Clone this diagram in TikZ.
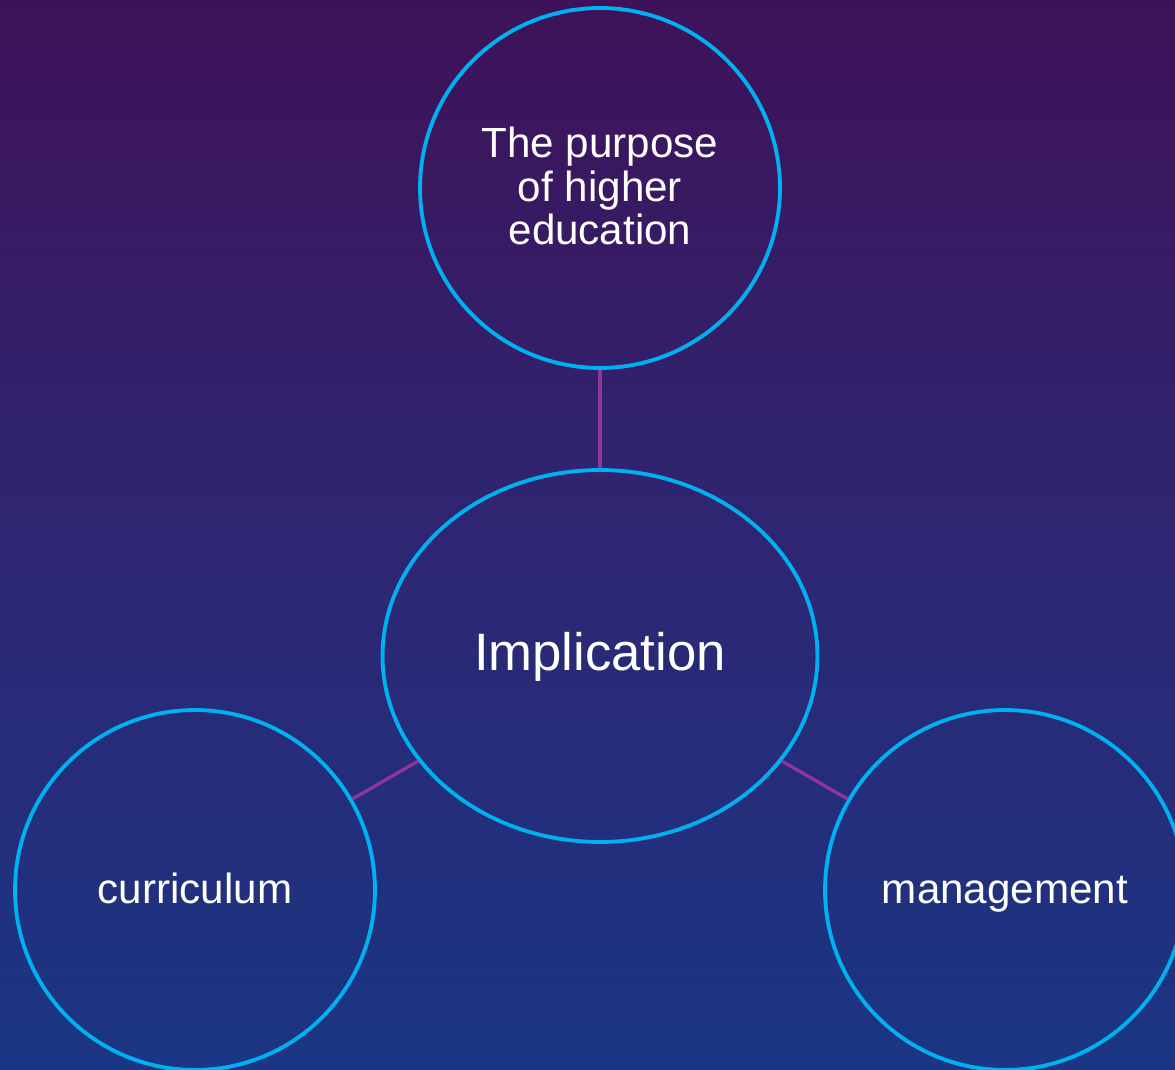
\documentclass[tikz,border=0pt]{standalone}
\usepackage{fontspec}
\setmainfont{Liberation Sans}
\usetikzlibrary{shapes.geometric}
\definecolor{bgtop}{HTML}{3E1258}
\definecolor{bgmid}{HTML}{2E2672}
\definecolor{bgbot}{HTML}{1A3684}
\definecolor{ringblue}{HTML}{00B0F0}
\definecolor{linkpurple}{HTML}{8E35A0}
\tikzset{
  ring/.style={circle, draw=ringblue, line width=2.2pt, minimum size=7.2cm, inner sep=0pt,
    text=white, align=center, font=\fontsize{24}{25}\selectfont},
  single/.style={text height=18pt, text depth=4.8pt},
  hub/.style={ellipse, draw=ringblue, line width=2.2pt, minimum width=8.7cm, minimum height=7.44cm,
    inner sep=0pt, text=white, align=center, font=\fontsize{30}{32}\selectfont,
    text height=22.5pt, text depth=6pt},
  link/.style={draw=linkpurple, line width=1.9pt}
}
\begin{document}
\begin{tikzpicture}[x=0.02cm, y=-0.02cm]
  \clip (0,0) rectangle (1175,1070);
  \shade[top color=bgtop, bottom color=bgbot, middle color=bgmid] (0,0) rectangle (1175,1070);
  \node[ring] (top) at (600,188) {};
  \node[text=white, align=center, font=\fontsize{24}{25}\selectfont] (toptext) at (600,186) {The purpose\\of higher\\education};
  \node[hub] (center) at (600,656) {Implication};
  \node[ring, single] (left) at (195,890) {};
  \node[text=white, font=\fontsize{24}{25}\selectfont, text height=18pt, text depth=4.8pt] (lefttext) at (195,892) {curriculum};
  \node[ring, single] (right) at (1005,890) {};
  \node[text=white, font=\fontsize{24}{25}\selectfont, text height=18pt, text depth=4.8pt] (righttext) at (1005,892) {management};
  \draw[link] (top) -- (center);
  \draw[link] (left) -- (center);
  \draw[link] (right) -- (center);
\end{tikzpicture}
\end{document}
